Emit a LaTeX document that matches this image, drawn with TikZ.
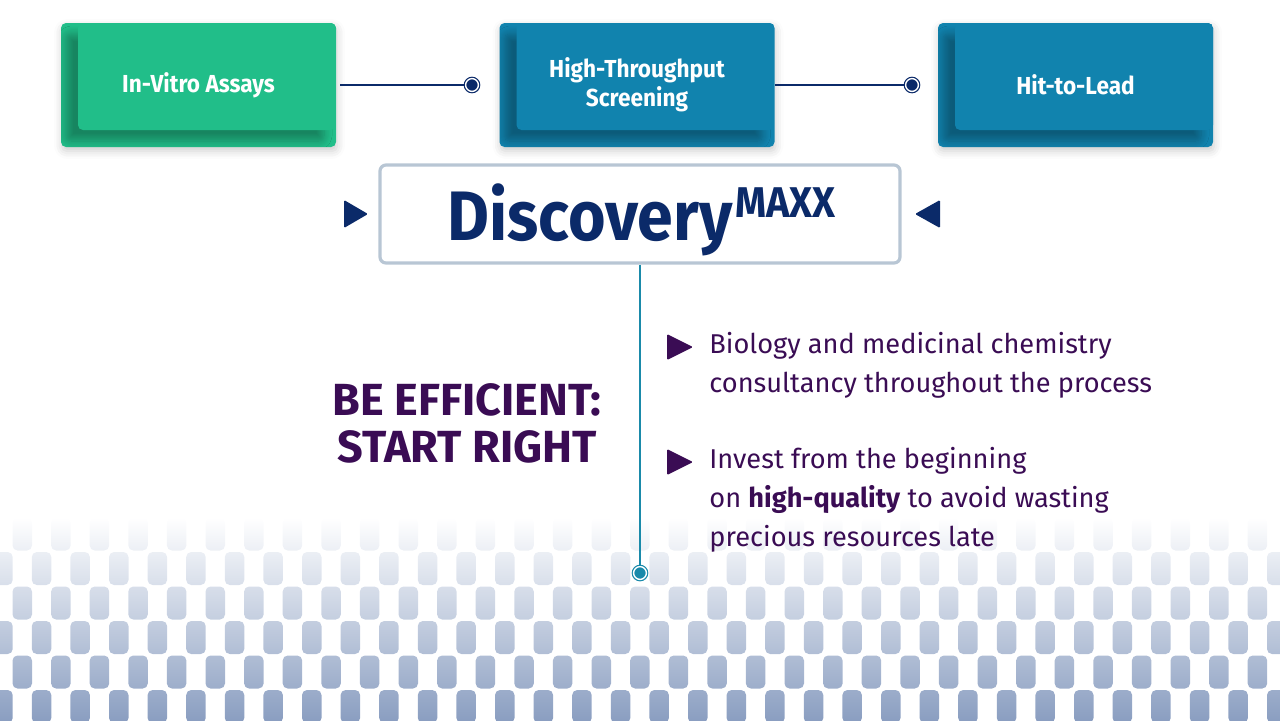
\documentclass[tikz,border=0pt]{standalone}
\usepackage{fontspec}
\setmainfont{Fira Sans}
\newfontfamily\condsans[FakeStretch=0.92]{Fira Sans}
\usetikzlibrary{shadows.blur}

\definecolor{assaygreen}{RGB}{33,190,137}
\definecolor{stageblue}{RGB}{17,131,174}
\definecolor{navy}{RGB}{11,42,105}
\definecolor{stemteal}{RGB}{26,138,170}
\definecolor{plum}{RGB}{58,12,84}
\definecolor{frameblue}{RGB}{184,198,212}
\definecolor{pillblue}{RGB}{137,157,192}

\tikzset{
  stagebox/.style={rounded corners=2.5pt, minimum width=137.5pt, minimum height=62pt, inner sep=0pt,
    fill=#1, text=white, align=center, font=\condsans\bfseries\fontsize{12.3}{14.5}\selectfont,
    blur shadow={shadow xshift=0.5pt, shadow yshift=-2pt, shadow opacity=20, shadow blur radius=4pt},
    path picture={\fill[#1, blur shadow={shadow xshift=-6pt, shadow yshift=-5.5pt, shadow opacity=30, shadow blur radius=4pt, shadow blur steps=8}]
      ([xshift=8.5pt, yshift=8.5pt]path picture bounding box.south west) rectangle (path picture bounding box.north east);}},
  linkdot/.style={circle, inner sep=0pt, minimum size=6.4pt, fill=#1, draw=#1, line width=0.6pt, double=white, double distance=0.7pt},
  link/.style={draw=navy, line width=1.2pt},
  stem/.style={draw=stemteal, line width=1pt},
  brandbox/.style={draw=frameblue, line width=1.6pt, fill=white, rounded corners=3pt, minimum width=260pt, minimum height=49pt},
  pointer/.style={fill=#1, rounded corners=0.6pt},
  bullettext/.style={anchor=base west, align=left, inner sep=0pt, text=plum, font=\fontsize{13.6}{19.5}\selectfont},
}

\begin{document}
\begin{tikzpicture}[x=0.5pt, y=-0.5pt]
\useasboundingbox (0,0) rectangle (1280,720);

% pill pattern at the bottom
\shade[top color=white, bottom color=pillblue, rounded corners=2.5pt]
  \foreach \r in {0,...,5}{ \foreach \k in {-1,...,33}{
    ({12.5+38.6*\k+19.3*mod(\r,2)}, {517.5+34.5*\r}) rectangle ++(19.5,33) } };

% pipeline stages
\node[stagebox=assaygreen] (invitro) at (198.5,85) {In-Vitro Assays};
\node[stagebox=stageblue] (hts) at (637,85) {High-Throughput\\Screening};
\node[stagebox=stageblue] (hitlead) at (1075.5,85) {Hit-to-Lead};

\node[linkdot=navy] (dotA) at (472,85) {};
\node[linkdot=navy] (dotB) at (912,85) {};
\draw[link, shorten <=2pt] (invitro.east) -- (dotA);
\draw[link] (hts.east) -- (dotB);

% brand box
\node[brandbox] (brand) at (640,214) {};
\node[anchor=base west, inner sep=0pt, text=navy, font=\condsans\bfseries\fontsize{35}{35}\selectfont] (brandname) at (447,240) {Discovery};
\node[anchor=base west, inner sep=0pt, text=navy, font=\condsans\bfseries\fontsize{21.5}{21.5}\selectfont] (brandsup) at (735,217) {MAXX};
\fill[pointer=navy] (344,200) -- (368,214) -- (344,228) -- cycle;
\fill[pointer=navy] (940,200) -- (915,214) -- (940,228) -- cycle;

% stem
\node[linkdot=stemteal] (stemend) at (640,573) {};
\draw[stem] (brand.south) -- (stemend);

% motto
\node[anchor=base, align=center, inner sep=0pt, text=plum, font=\bfseries\fontsize{22.5}{23.5}\selectfont] (motto) at (467,462) {BE EFFICIENT:\\START RIGHT};

% bullets
\fill[pointer=plum] (667,334) -- (693,347) -- (667,360) -- cycle;
\node[bullettext] (tipA) at (709,392) {Biology and medicinal chemistry\\consultancy throughout the process};
\fill[pointer=plum] (667,449) -- (693,462) -- (667,475) -- cycle;
\node[bullettext] (tipB) at (709,546) {Invest from the beginning\\on \textbf{high-quality} to avoid wasting\\precious resources late};
\end{tikzpicture}
\end{document}
